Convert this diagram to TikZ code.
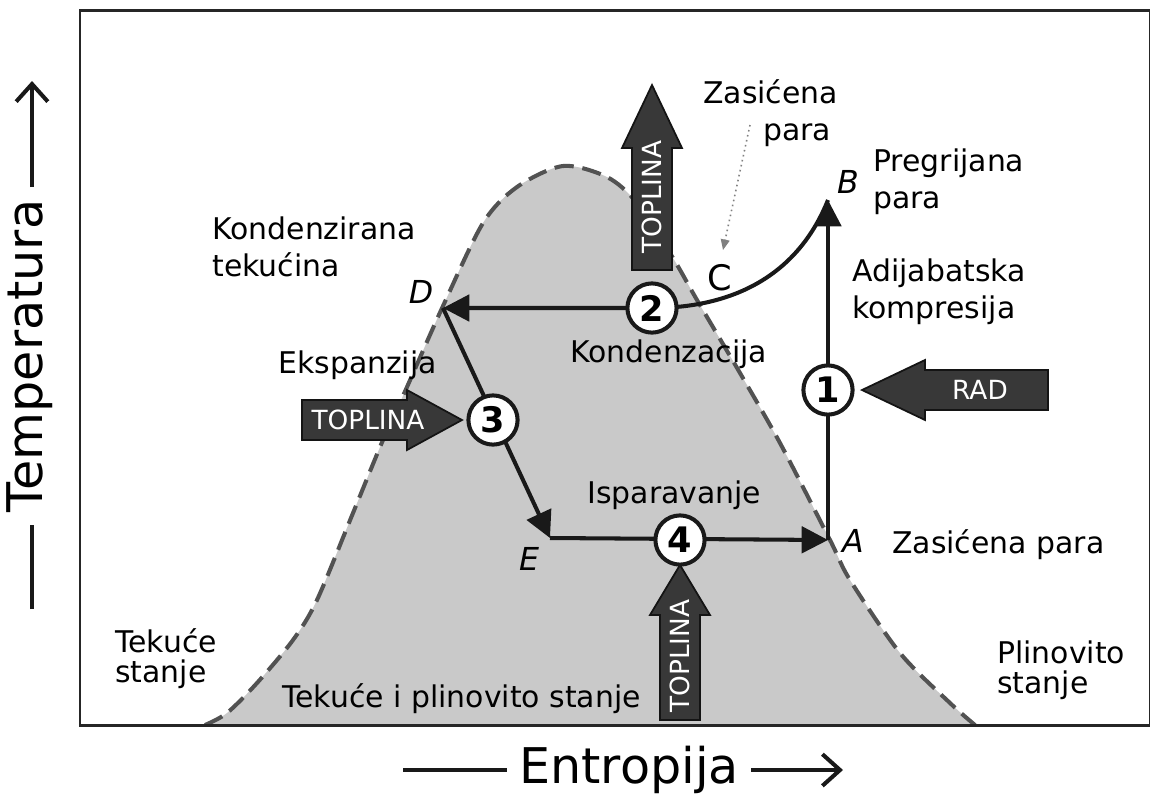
\documentclass[tikz,border=0pt]{standalone}
\usepackage{fontspec}
\setmainfont{DejaVu Sans}
\usetikzlibrary{arrows.meta}

\begin{document}
\begin{tikzpicture}[x=0.02cm, y=-0.02cm,
        flow/.style={line width=2.3pt, draw=black!90, -{Triangle[length=15pt,width=15pt]}},
        stage/.style={circle, draw=black!90, line width=2.3pt, fill=white, minimum size=28pt, inner sep=0pt, font=\fontsize{20}{20}\selectfont\bfseries},
        heat/.style={fill=black!78, draw=black!92, line width=1pt},
        heattext/.style={text=white, font=\fontsize{15}{15}\selectfont},
        lbl/.style={font=\fontsize{17}{20.5}\selectfont, align=left, inner sep=0pt, anchor=base west},
        lowlbl/.style={lbl, font=\fontsize{17}{17}\selectfont},
        point/.style={font=\fontsize{18}{18}\selectfont\itshape, inner sep=0pt, anchor=base},
        axislbl/.style={font=\fontsize{28}{28}\selectfont, inner sep=7pt},
        axisline/.style={line width=2.3pt, black!90}]
    \useasboundingbox (0, 0) rectangle (1150, 796);

    % two-phase region
    \filldraw[fill = black!21, draw = black!68, line width = 2.3pt, dash pattern = on 11pt off 5pt]
        plot[smooth] coordinates {(205, 725) (227, 713) (257, 683) (293, 640) (317, 600) (353, 513) (383, 440) (407, 387) (443, 306) (483, 223) (517, 187) (563, 166) (607, 177) (637, 203) (673, 258) (697, 300) (740, 373) (780, 443) (830, 540) (850, 580) (900, 653) (950, 703) (975, 725)};
    \draw[line width = 1.7pt, black!85] (80, 10) rectangle (1150, 725);

    % cycle
    \coordinate (A) at (828, 540);
    \coordinate (B) at (828, 200);
    \coordinate (D) at (443, 308);
    \coordinate (E) at (550, 538);
    \coordinate (p1) at (828, 390);
    \coordinate (p2) at (652, 308);
    \coordinate (p3) at (493, 420);
    \coordinate (p4) at (680, 540);
    \draw[flow] (A) -- (B);
    \draw[flow] (B) .. controls (800, 270) and (740, 308) .. (p2) -- (D);
    \draw[flow] (D) -- (E);
    \draw[flow] (E) -- (A);

    % heat and work
    \filldraw[heat] (632, 270) -- (632, 148) -- (622, 148) -- (652, 85) -- (682, 148) -- (672, 148) -- (672, 270) -- cycle;
    \filldraw[heat] (660, 720) -- (660, 615) -- (650, 615) -- (680, 565) -- (710, 615) -- (700, 615) -- (700, 720) -- cycle;
    \filldraw[heat] (302, 400) -- (407, 400) -- (407, 390) -- (462, 420) -- (407, 450) -- (407, 440) -- (302, 440) -- cycle;
    \filldraw[heat] (1048, 370) -- (925, 370) -- (925, 360) -- (862, 390) -- (925, 420) -- (925, 410) -- (1048, 410) -- cycle;
    \node[heattext, rotate = 90] (heatout) at (652, 197) {TOPLINA};
    \node[heattext, rotate = 90] (heatin) at (680, 656) {TOPLINA};
    \node[heattext] (heatexp) at (368, 420) {TOPLINA};
    \node[heattext] (work) at (980, 390) {RAD};

    \node[stage] (st1) at (p1) {1};
    \node[stage] (st2) at (p2) {2};
    \node[stage] (st3) at (p3) {3};
    \node[stage] (st4) at (p4) {4};

    % points
    \node[point] (labA) at (853, 552) {A};
    \node[point] (labB) at (848, 193) {B};
    \node[point, font = \fontsize{20}{20}\selectfont] (labC) at (720, 290) {C};
    \node[point] (labD) at (421, 303) {D};
    \node[point] (labE) at (529, 570) {E};

    % labels
    \node[lbl] (satTop) at (703, 140) {Zasićena\\\hspace{2em}para};
    \coordinate (satFrom) at (750, 125);
    \coordinate (satTo) at (723, 250);
    \draw[black!50, line width = 0.9pt, dotted, -{Triangle[length=6pt,width=5pt]}] (satFrom) -- (satTo);
    \node[lbl] (superheat) at (873, 208) {Pregrijana\\para};
    \node[lbl] (adiab) at (852, 318) {Adijabatska\\kompresija};
    \node[lbl] (condliq) at (212, 276) {Kondenzirana\\tekućina};
    \node[lbl] (expand) at (278, 373) {Ekspanzija};
    \node[lbl] (condens) at (570, 362) {Kondenzacija};
    \node[lbl] (evap) at (587, 503) {Isparavanje};
    \node[lbl] (satA) at (892, 553) {Zasićena para};
    \node[lowlbl] (liquid) at (115, 682) {Tekuće\\stanje};
    \node[lowlbl] (mixed) at (282, 707) {Tekuće i plinovito stanje};
    \node[lowlbl] (gas) at (997, 693) {Plinovito\\stanje};

    % axes
    \node[axislbl] (entropy) at (629, 770) {Entropija};
    \coordinate (entLo) at (403, 770);
    \coordinate (entHi) at (843, 770);
    \draw[axisline] (entLo) -- (entropy.west);
    \draw[axisline, -{Straight Barb[length=10pt,width=18pt]}] (entropy.east) -- (entHi);
    \node[axislbl, rotate = 90] (temp) at (30, 356) {Temperatura};
    \coordinate (tempLo) at (32, 609);
    \coordinate (tempHi) at (32, 81);
    \draw[axisline] (tempLo) -- (tempLo |- temp.west);
    \draw[axisline, -{Straight Barb[length=10pt,width=18pt]}] (tempHi |- temp.east) -- (tempHi);
\end{tikzpicture}
\end{document}
